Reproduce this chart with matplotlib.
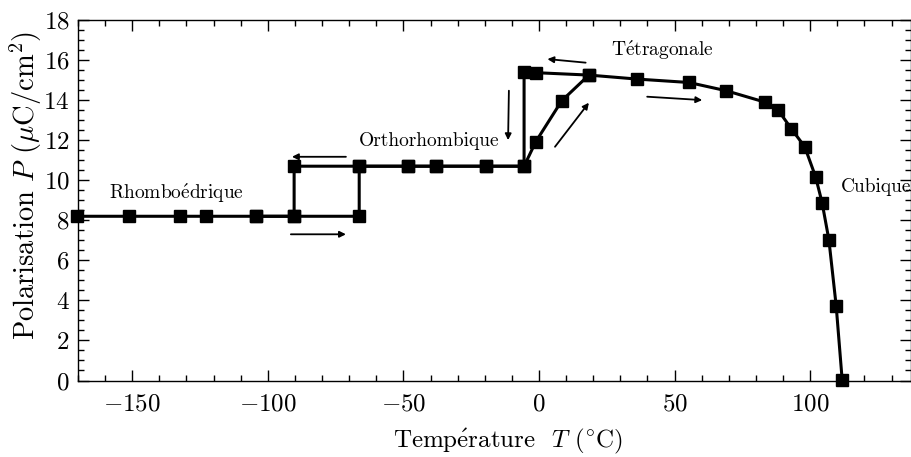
import matplotlib
matplotlib.use("Agg")
import matplotlib.pyplot as plt
from matplotlib.ticker import MultipleLocator

plt.rcParams['font.family'] = ['cmr10', 'DejaVu Serif']
plt.rcParams['mathtext.fontset'] = 'cm'
plt.rcParams['axes.formatter.use_mathtext'] = True
plt.rcParams['axes.unicode_minus'] = True

# chauffage (heating branch)
t_chauffe = [-170.3, -151.1, -132.3, -122.7, -104.3, -90.3, -66.3,
             -66.3, -48.3, -38.0, -19.5, -5.5,
             -1.2, 8.4, 18.4, 36.2, 55.3, 69.0, 83.3, 88.2, 93.0, 98.0,
             102.0, 104.4, 106.9, 109.6, 111.8]
p_chauffe = [8.2, 8.2, 8.2, 8.2, 8.2, 8.2, 8.2,
             10.7, 10.7, 10.7, 10.7, 10.7,
             11.92, 13.97, 15.25, 15.05, 14.88, 14.47, 13.9, 13.5, 12.58, 11.67,
             10.17, 8.88, 7.03, 3.72, 0.03]

# refroidissement (cooling branch)
t_refroid = [18.4, -1.2, -5.5, -5.5, -19.5, -38.0, -48.3, -66.3, -90.3,
             -90.3, -104.3]
p_refroid = [15.25, 15.37, 15.4, 10.7, 10.7, 10.7, 10.7, 10.7, 10.7,
             8.2, 8.2]

# fleches: (x debut, y debut, x fin, y fin)
fleches = [(-91.5, 7.3, -71.2, 7.3),
           (-71.2, 11.17, -91.1, 11.17),
           (-11.1, 14.47, -11.4, 12.0),
           (5.9, 11.67, 18.4, 13.87),
           (17.2, 15.87, 3.1, 16.05),
           (39.9, 14.17, 60.2, 14.0)]

e_aigu = r"$\mathrm{\acute{e}}$"
phases = ["Rhombo" + e_aigu + "drique", "Orthorhombique", "T" + e_aigu + "tragonale", "Cubique"]
phases_x = [-133.6, -40.5, 45.7, 111.2]
phases_y = [9.35, 11.95, 16.5, 9.65]
phases_ha = ["center", "center", "center", "left"]

fig = plt.figure(figsize=(9.11, 4.57), dpi=100)
ax = fig.add_axes([78 / 911, 1 - 380.5 / 457, (910.5 - 78) / 911, 360.5 / 457])

ax.plot(t_chauffe, p_chauffe, color="black", lw=2.2, marker="s", ms=8.8, clip_on=False, zorder=3)
ax.plot(t_refroid, p_refroid, color="black", lw=2.2, marker="s", ms=8.8, clip_on=False, zorder=3)

for x0, y0, x1, y1 in fleches:
    ax.annotate("", xy=(x1, y1), xytext=(x0, y0),
                arrowprops=dict(arrowstyle="-|>", color="black", lw=1.3,
                                mutation_scale=9, shrinkA=0, shrinkB=0))

for nom, x, y, ha in zip(phases, phases_x, phases_y, phases_ha):
    ax.text(x, y, nom, fontsize=14, ha=ha, va="center")

ax.set_xlim(-170, 137)
ax.set_ylim(0, 18)
ax.xaxis.set_major_locator(MultipleLocator(50))
ax.xaxis.set_minor_locator(MultipleLocator(10))
ax.yaxis.set_major_locator(MultipleLocator(2))
ax.yaxis.set_minor_locator(MultipleLocator(0.5))
ax.tick_params(which="both", direction="in", top=True, right=True, labelsize=18, width=1)
ax.tick_params(which="major", length=8)
ax.tick_params(which="minor", length=4)
ax.tick_params(axis="x", which="major", pad=9)
ax.tick_params(axis="y", which="major", pad=6)
for s in ax.spines.values():
    s.set_linewidth(1)

ax.set_xlabel("Temp" + e_aigu + "rature  $T$ (" + r"$^{\circ}$" + "C)", fontsize=18, va="center")
ax.xaxis.set_label_coords((508 - 78) / 832.5, (380.5 - 441) / 360.5)
ax.set_ylabel(r"Polarisation $P$ ($\mu$C/cm$^2$)", fontsize=20.5, va="center")
ax.yaxis.set_label_coords((26 - 78) / 832.5, (380.5 - 185) / 360.5)

fig.savefig("out.png", dpi=100)
